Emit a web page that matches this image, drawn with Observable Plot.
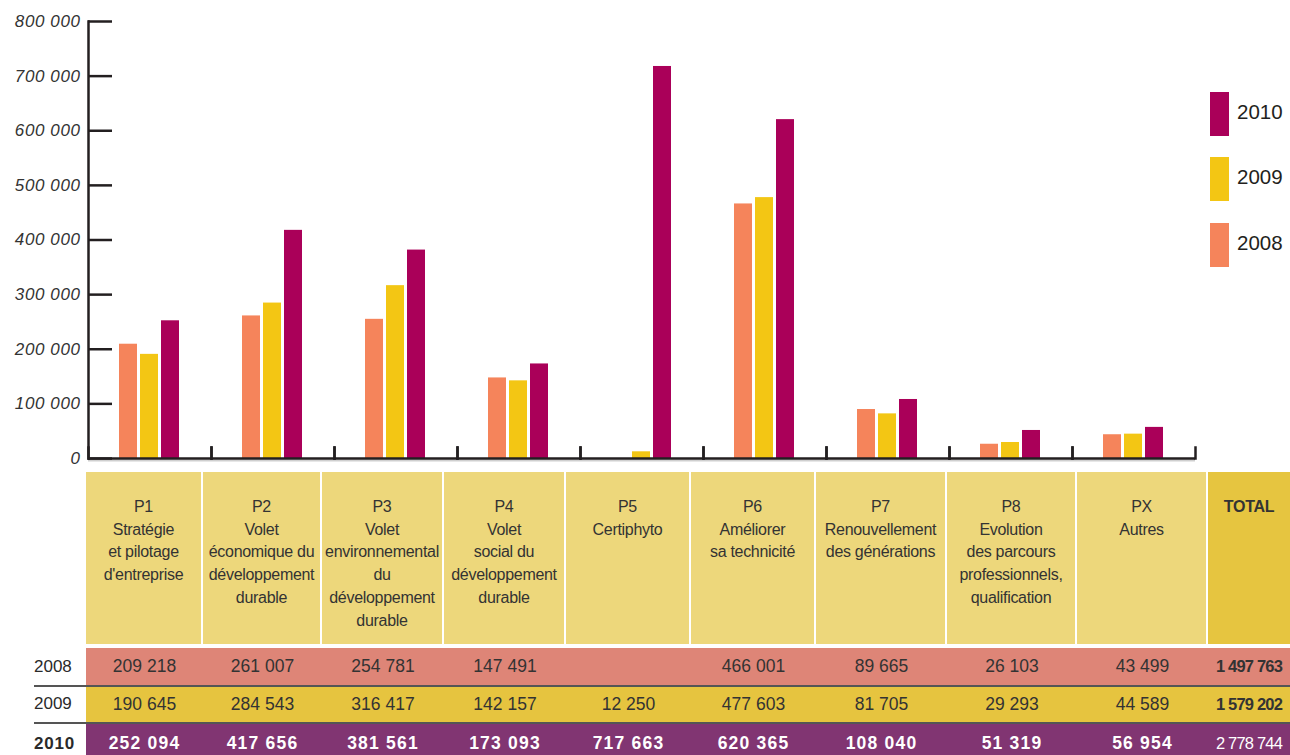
<!DOCTYPE html>
<html><head><meta charset="utf-8">
<script src="https://cdn.jsdelivr.net/npm/d3@7"></script>
<script src="https://cdn.jsdelivr.net/npm/@observablehq/plot@0.6"></script>
<style>
body{margin:0;background:#fff;font-family:"Liberation Sans",Arial,Helvetica,sans-serif;}
#wrap{position:relative;width:1290px;height:755px;overflow:hidden;}
#chart{position:absolute;left:0;top:0;}
#chart svg g[aria-label="y-axis tick label"] text{letter-spacing:0.6px;}
.abs{position:absolute;box-sizing:border-box;}
.hdr{background:#EDD77B;color:#333;text-align:center;font-size:16px;line-height:22.7px;padding-top:24px;letter-spacing:-0.3px;}
.row{display:flex;align-items:center;justify-content:center;font-size:17.5px;color:#333;}
.lbl{display:flex;align-items:center;font-size:17px;color:#333;}
</style></head><body>
<div id="wrap"><div id="chart"></div><div id="legend"></div><div id="table"></div></div>
<script>
const categories = ["P1","P2","P3","P4","P5","P6","P7","P8","PX"];
const headerLines = [
  ["P1","Stratégie","et pilotage","d'entreprise"],
  ["P2","Volet","économique du","développement","durable"],
  ["P3","Volet","environnemental","du","développement","durable"],
  ["P4","Volet","social du","développement","durable"],
  ["P5","Certiphyto"],
  ["P6","Améliorer","sa technicité"],
  ["P7","Renouvellement","des générations"],
  ["P8","Evolution","des parcours","professionnels,","qualification"],
  ["PX","Autres"]
];
const totalLabel = "TOTAL";
const years = ["2008","2009","2010"];
const values2008 = [209218, 261007, 254781, 147491, null, 466001, 89665, 26103, 43499];
const values2009 = [190645, 284543, 316417, 142157, 12250, 477603, 81705, 29293, 44589];
const values2010 = [252094, 417656, 381561, 173093, 717663, 620365, 108040, 51319, 56954];
const totals = [1497763, 1579202, 2778744];
const yTicks = [0,100000,200000,300000,400000,500000,600000,700000,800000];

const barColors = ["#F5845B","#F3C614","#AA0059"];
const rowColors = ["#DE8577","#E6C43F","#813572"];
const axisColor = "#231f20";

const series = [values2008, values2009, values2010];
const data = [];
categories.forEach((c, i) => {
  series.forEach((arr, j) => {
    if (arr[i] != null) data.push({cat: c, year: years[j], value: arr[i]});
  });
});

const fmt = d3.formatLocale({thousands: "\u00a0", grouping: [3], decimal: ","}).format(",d");

const chart = Plot.plot({
  width: 1290, height: 470,
  marginTop: 21, marginBottom: 12, marginLeft: 84, marginRight: 91,
  style: {fontFamily: '"Liberation Sans", Arial, sans-serif', background: "transparent", overflow: "visible"},
  fx: {domain: categories, padding: 0, axis: null, label: null},
  x: {domain: years, paddingInner: 0.12, paddingOuter: 1.43, axis: null, label: null},
  y: {domain: [0, 800000], axis: null},
  color: {domain: years, range: barColors},
  marks: [
    Plot.ruleY([0], {stroke: "#cfcfcf", strokeWidth: 2, dy: 2}),
    Plot.barY(data, {fx: "cat", x: "year", y: "value", fill: "year"}),
    Plot.ruleY([0], {stroke: axisColor, strokeWidth: 2.5}),
    Plot.frame({anchor: "left", insetTop: 426, stroke: axisColor, strokeWidth: 2.5}),
    Plot.frame({anchor: "right", insetTop: 426, stroke: axisColor, strokeWidth: 2.5}),
    Plot.frame({anchor: "left", facet: "super", stroke: axisColor, strokeWidth: 2.5}),
    Plot.axisY({ticks: yTicks, tickSize: 24, dx: 24, fill: "none", label: null, stroke: axisColor, strokeWidth: 2.5}),
    Plot.axisY({ticks: yTicks, tickSize: 0, tickPadding: 8, tickFormat: fmt, label: null, fontSize: 17, fontStyle: "italic", fill: "#333"})
  ]
});
document.getElementById("chart").appendChild(chart);

// Legend
const legend = d3.select("#legend");
const legendTops = {"2010": 92, "2009": 157, "2008": 223};
years.slice().reverse().forEach(y => {
  const i = years.indexOf(y);
  legend.append("div").attr("class","abs")
    .style("left","1210px").style("top", legendTops[y]+"px")
    .style("width","19px").style("height","44px").style("background", barColors[i]);
  legend.append("div").attr("class","abs")
    .style("left","1237px").style("top", (legendTops[y]+6)+"px")
    .style("font-size","20.5px").style("line-height","28px").style("color","#231f20")
    .text(y);
});

// Table
const table = d3.select("#table");
const colEdges = [86, 203, 322, 444, 566, 691, 816, 947, 1077, 1208, 1290];
const hdrTop = 472, hdrH = 172;
categories.forEach((c, i) => {
  table.append("div").attr("class","abs hdr")
    .style("left", colEdges[i]+"px").style("top", hdrTop+"px")
    .style("width", (colEdges[i+1]-colEdges[i]-2)+"px").style("height", hdrH+"px")
    .html(headerLines[i].join("<br>"));
});
table.append("div").attr("class","abs hdr")
  .style("left", colEdges[9]+"px").style("top", hdrTop+"px")
  .style("width", (colEdges[10]-colEdges[9])+"px").style("height", hdrH+"px")
  .style("background","#E6C540").style("font-weight","bold")
  .text(totalLabel);

const rowTops = [648, 686.5, 723.5];
const rowHs = [37, 35.5, 40];
years.forEach((y, r) => {
  table.append("div").attr("class","abs")
    .style("left", colEdges[0]+"px").style("top", rowTops[r]+"px")
    .style("width", (1290-colEdges[0])+"px").style("height", rowHs[r]+"px")
    .style("background", rowColors[r]);
  table.append("div").attr("class","abs lbl")
    .style("left","34px").style("top", rowTops[r]+"px").style("height", rowHs[r]+"px")
    .style("font-weight", r === 2 ? "bold" : "normal")
    .style("letter-spacing", r === 2 ? "0.8px" : "0")
    .style("color", "#2a2a2a")
    .text(y);
  series[r].forEach((v, i) => {
    if (v == null) return;
    table.append("div").attr("class","abs row")
      .style("left", colEdges[i]+"px").style("top", rowTops[r]+"px")
      .style("width", (colEdges[i+1]-colEdges[i])+"px").style("height", rowHs[r]+"px")
      .style("color", r === 2 ? "#fff" : "#333")
      .style("font-weight", r === 2 ? "bold" : "normal")
      .style("letter-spacing", r === 2 ? "1.2px" : "0")
      .text(fmt(v));
  });
  table.append("div").attr("class","abs row")
    .style("left", colEdges[9]+"px").style("top", rowTops[r]+"px")
    .style("width", (colEdges[10]-colEdges[9])+"px").style("height", rowHs[r]+"px")
    .style("color", r === 2 ? "#fff" : "#333")
    .style("font-weight", r === 2 ? "normal" : "bold")
    .style("font-size", "16.5px")
    .style("letter-spacing", "-0.8px")
    .text(fmt(totals[r]));
});
[685, 722].forEach(t => {
  table.append("div").attr("class","abs")
    .style("left","34px").style("top", t+"px").style("width", (1290-34)+"px")
    .style("height","1.5px").style("background","#555");
});
</script></body></html>
